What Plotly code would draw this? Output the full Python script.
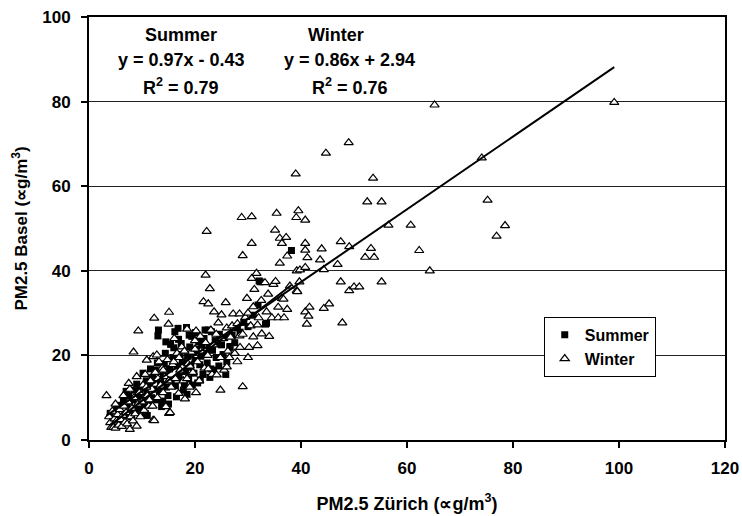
import plotly.graph_objects as go

# ---------------- data ----------------
summer_x = [4.0, 5.2, 5.8, 6.5, 6.8, 7.2, 7.5, 7.9, 8.3, 8.6, 8.9, 9.2, 9.5, 9.8, 10.1, 10.2, 10.5, 10.6,
            10.9, 11.2, 11.5, 11.8, 12.0, 12.2, 12.5, 12.8, 13.0, 13.1, 13.3, 13.5, 13.7, 14.0, 14.2, 14.5,
            14.6, 14.9, 15.2, 15.5, 15.8, 16.0, 16.2, 16.3, 16.6, 16.8, 17.0, 17.2, 17.4, 17.6, 17.8, 18.0,
            18.2, 18.4, 18.6, 18.8, 19.0, 19.2, 19.4, 19.6, 19.8, 20.0, 20.1, 20.3, 20.5, 20.7, 20.9, 21.1,
            21.3, 21.5, 21.7, 21.9, 22.1, 22.3, 22.5, 22.7, 23.0, 23.1, 23.3, 23.5, 23.8, 24.0, 24.3, 24.6,
            25.0, 25.3, 25.6, 26.0, 26.6, 26.6, 27.0, 27.5, 28.0, 28.5, 29.2, 30.0, 31.0, 31.9, 32.1, 32.3,
            33.3, 33.5, 38.2,
            9.0, 10.8, 11.6, 12.9, 14.4, 15.4, 16.9, 18.9, 6.0, 7.0, 8.0, 11.0, 13.9, 15.0, 16.5, 18.5,
            19.5, 21.0, 22.8, 24.5, 25.8]
summer_y = [6.3, 7.5, 8.2, 9.8, 6.0, 8.8, 10.5, 7.2, 9.5, 11.8, 6.5, 8.0, 10.2, 12.5, 7.5, 15.8, 9.0, 6.3,
            11.2, 13.5, 8.5, 10.0, 14.8, 12.0, 16.5, 9.5, 24.6, 26.0, 11.5, 13.8, 7.9, 15.5, 18.0, 23.2,
            12.5, 10.5, 16.8, 14.2, 19.5, 21.8, 25.6, 12.8, 17.5, 26.4, 15.0, 20.2, 22.8, 18.5, 11.8, 12.9,
            16.2, 26.6, 19.8, 14.5, 22.0, 17.2, 24.5, 20.8, 15.8, 18.8, 25.4, 21.5, 13.5, 23.2, 17.8, 19.8,
            22.5, 15.5, 24.0, 26.0, 20.5, 18.2, 26.0, 22.0, 16.8, 25.6, 21.2, 16.5, 23.5, 19.5, 22.8, 25.0,
            22.5, 20.2, 24.2, 18.5, 21.9, 22.1, 24.8, 23.0, 26.5, 25.5, 27.8, 26.8, 29.5, 31.9, 37.6, 37.4,
            27.4, 27.6, 44.8,
            13.2, 14.0, 16.8, 18.2, 20.5, 22.6, 23.8, 24.8, 5.5, 11.5, 5.5, 5.8, 9.2, 8.5, 10.2, 10.8,
            13.0, 14.2, 14.8, 17.5, 15.5]

winter_x = [3.3, 3.8, 4.0, 4.2, 4.4, 4.6, 4.8, 5.0, 5.2, 5.4, 5.6, 5.8, 6.0, 6.2, 6.4, 6.6, 6.8, 7.0,
            7.2, 7.4, 7.5, 7.7, 7.7, 7.9, 8.1, 8.3, 8.4, 8.5, 8.7, 9.0, 9.2, 9.3, 9.5, 9.7, 10.0, 10.2,
            10.4, 10.6, 10.9, 11.0, 11.3, 11.6, 11.9, 12.1, 12.1, 12.3, 12.3, 12.5, 12.8, 12.9, 13.2, 13.5,
            13.8, 14.0, 14.3, 14.5, 14.8, 15.0, 15.1, 15.1, 15.3, 15.5, 15.8, 16.1, 16.3, 16.6, 16.9, 17.2,
            17.5, 17.8, 18.1, 18.5, 18.7, 19.0, 19.3, 19.6, 20.0, 20.2, 20.2, 20.5, 20.8, 21.1, 21.6, 21.8,
            22.0, 22.2, 22.5, 22.4, 22.8, 23.2, 23.6, 23.5, 24.1, 24.4, 24.8, 24.8, 25.0, 25.5, 25.8, 26.0,
            26.2, 26.7, 27.2, 27.5, 28.0, 28.4, 28.4, 28.5, 28.8, 29.0, 29.0, 29.5, 29.8, 30.0, 30.2, 30.5,
            30.7, 30.7, 30.7, 31.0, 31.2, 31.6, 31.8, 31.8, 32.0, 32.6, 33.2, 33.5, 34.0, 34.5, 34.8, 35.1,
            35.2, 35.4, 35.7, 35.7, 36.0, 36.0, 36.4, 36.4, 36.7, 36.8, 37.2, 37.4, 37.4, 37.9, 39.0, 39.1,
            39.2, 39.2, 39.3, 39.5, 39.7, 39.8, 40.8, 40.8, 40.8, 40.8, 40.8, 41.1, 41.2, 41.4, 41.6, 43.6,
            43.9, 44.3, 44.3, 44.7, 45.3, 46.9, 47.5, 47.5, 47.8, 49.0, 49.1, 49.1, 50.0, 51.0, 52.1, 52.5,
            53.2, 53.6, 53.8, 55.2, 55.2, 56.5, 60.7, 62.3, 64.3, 65.2, 74.1, 75.2, 76.9, 78.5, 99.1,
            10.8, 11.4, 12.0, 13.0, 14.0, 15.0, 16.0, 17.0, 18.0, 19.0, 20.0, 21.0, 22.0, 23.0, 24.0, 25.0,
            26.0, 27.0, 28.0, 29.0, 30.0, 31.0, 32.5, 33.8, 22.5, 18.5, 26.5, 9.0, 6.5, 5.0]
winter_y = [10.5, 5.5, 4.1, 3.0, 6.8, 3.0, 5.0, 2.8, 4.5, 6.0, 3.5, 7.2, 4.8, 3.2, 5.8, 8.0, 4.2, 6.5,
            3.8, 9.0, 13.4, 12.0, 2.5, 5.5, 7.5, 4.5, 20.8, 10.0, 6.2, 3.3, 8.5, 25.8, 11.2, 5.5, 9.0, 13.0,
            7.0, 15.5, 18.9, 10.5, 8.0, 14.0, 12.0, 19.7, 4.7, 28.8, 4.6, 16.0, 20.1, 10.0, 18.5, 13.0,
            17.0, 11.2, 15.0, 7.9, 19.0, 27.4, 30.2, 6.3, 6.5, 12.5, 17.8, 24.0, 14.5, 20.5, 11.0, 16.5,
            22.0, 14.0, 9.7, 26.2, 18.0, 12.5, 20.8, 16.0, 23.5, 11.2, 25.8, 18.5, 14.0, 21.0, 32.7, 17.0,
            39.0, 49.3, 32.2, 20.0, 35.8, 15.5, 30.3, 22.5, 15.4, 27.7, 11.8, 19.5, 29.6, 16.5, 32.5, 17.3,
            21.0, 24.3, 29.8, 20.5, 18.5, 24.6, 29.8, 21.9, 52.6, 12.6, 43.6, 29.0, 33.5, 19.5, 21.9, 27.0,
            52.8, 46.5, 38.2, 24.4, 35.6, 39.4, 22.3, 27.2, 28.9, 25.1, 37.2, 30.3, 24.5, 28.9, 36.8, 49.6,
            37.5, 53.6, 31.4, 28.9, 47.7, 41.8, 46.5, 33.5, 33.3, 28.9, 47.9, 43.5, 30.9, 36.4, 62.9, 52.6,
            40.0, 35.3, 35.1, 54.2, 37.4, 40.2, 52.0, 46.5, 44.9, 40.8, 30.3, 27.4, 43.1, 29.3, 31.4, 42.6,
            45.2, 40.3, 31.1, 67.8, 32.2, 41.5, 46.9, 37.4, 27.7, 70.3, 45.7, 35.3, 36.2, 36.2, 43.2, 56.3,
            45.3, 61.9, 43.2, 56.3, 37.4, 50.8, 50.8, 44.8, 40.0, 79.2, 66.7, 56.7, 48.2, 50.7, 79.8,
            12.5, 9.5, 8.0, 14.5, 16.5, 14.0, 18.5, 19.5, 21.0, 17.5, 21.5, 24.5, 23.0, 26.0, 25.0, 24.0,
            26.5, 27.0, 27.5, 25.0, 30.0, 31.5, 33.0, 34.5, 16.8, 14.5, 19.5, 15.0, 10.5, 8.5]

summer_fit = {"slope": 0.97, "intercept": -0.43, "r2": 0.79}
winter_fit = {"slope": 0.86, "intercept": 2.94, "r2": 0.76}

x_ticks = [0, 20, 40, 60, 80, 100, 120]
y_ticks = [0, 20, 40, 60, 80, 100]

FONT = "Liberation Sans"

def bold(s):
    return f"<b>{s}</b>"

fig = go.Figure()

fig.add_trace(go.Scatter(
    x=summer_x, y=summer_y, mode="markers", name=bold("Summer"),
    marker=dict(symbol="square", size=7, color="black", line=dict(width=0)),
))
fig.add_trace(go.Scatter(
    x=winter_x, y=winter_y, mode="markers", name=bold("Winter"),
    marker=dict(symbol="triangle-up", size=8, color="white", line=dict(color="black", width=1.2)),
))

# trend lines computed from the fit equations over each data range
for xs, fit in ((summer_x, summer_fit), (winter_x, winter_fit)):
    x0, x1 = min(xs), max(xs)
    fig.add_trace(go.Scatter(
        x=[x0, x1], y=[fit["slope"] * x0 + fit["intercept"], fit["slope"] * x1 + fit["intercept"]],
        mode="lines", line=dict(color="black", width=2), showlegend=False, hoverinfo="skip",
    ))

ann_font = dict(family=FONT, size=18, color="black")
def eq_text(fit):
    sign = "-" if fit["intercept"] < 0 else "+"
    return f"y = {fit['slope']:.2f}x {sign} {abs(fit['intercept']):.2f}"

annotations = [
    dict(x=17.4, y=95.7, text=bold("Summer")),
    dict(x=17.4, y=89.8, text=bold(eq_text(summer_fit))),
    dict(x=17.4, y=83.5, text=bold(f"R<sup>2</sup> = {summer_fit['r2']:.2f}")),
    dict(x=46.6, y=95.7, text=bold("Winter")),
    dict(x=49.2, y=89.8, text=bold(eq_text(winter_fit))),
    dict(x=49.2, y=83.5, text=bold(f"R<sup>2</sup> = {winter_fit['r2']:.2f}")),
]
for a in annotations:
    a.update(xref="x", yref="y", showarrow=False, font=ann_font, xanchor="center", yanchor="middle")

tick_font = dict(family=FONT, size=17, color="black")

fig.update_layout(
    width=742, height=516,
    margin=dict(l=89, r=17, t=17, b=76, pad=0, autoexpand=False),
    paper_bgcolor="white", plot_bgcolor="white",
    font=dict(family=FONT, color="black"),
    annotations=annotations,
    legend=dict(
        x=0.715, y=0.291, xanchor="left", yanchor="top",
        bgcolor="white", bordercolor="black", borderwidth=1,
        font=dict(family=FONT, size=16, color="black"),
        itemwidth=30, tracegroupgap=0,
    ),
    xaxis=dict(
        range=[0, 120], tickvals=x_ticks, ticktext=[bold(v) for v in x_ticks],
        showgrid=False, zeroline=False, automargin=False,
        showline=True, linecolor="black", linewidth=2, mirror=True,
        ticks="outside", ticklen=6, tickwidth=2, tickcolor="black",
        ticklabelstandoff=6,
        tickfont=tick_font,
        title=dict(text=bold("PM2.5 Zürich (∝g/m<sup>3</sup>)"), standoff=20,
                   font=dict(family=FONT, size=18, color="black")),
    ),
    yaxis=dict(
        range=[0, 100], tickvals=y_ticks, ticktext=[bold(v) for v in y_ticks],
        showgrid=True, gridcolor="#222222", gridwidth=1,
        zeroline=False, automargin=False,
        showline=True, linecolor="black", linewidth=2, mirror=True,
        ticks="outside", ticklen=6, tickwidth=2, tickcolor="black",
        ticklabelstandoff=7,
        tickfont=tick_font,
        title=dict(text=bold("PM2.5 Basel (∝g/m<sup>3</sup>)"), standoff=10,
                   font=dict(family=FONT, size=17, color="black")),
    ),
)

fig.write_html("out.html")
